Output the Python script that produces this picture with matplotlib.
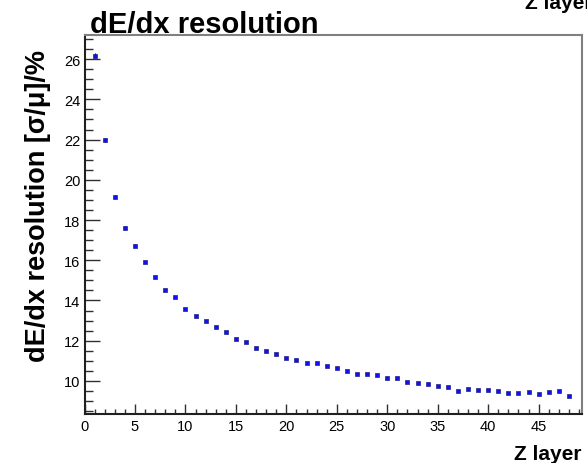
import matplotlib
matplotlib.use("Agg")
from matplotlib import pyplot as plt
from matplotlib.ticker import MultipleLocator
import numpy as np

# resolution per Z layer (sigma/mu in %)
layers = np.arange(1, 49)
resolution = [26.18, 21.97, 19.16, 17.62, 16.73, 15.93, 15.17, 14.51, 14.17, 13.56,
              13.24, 12.96, 12.67, 12.43, 12.08, 11.95, 11.65, 11.47, 11.34, 11.15,
              11.04, 10.91, 10.88, 10.76, 10.63, 10.51, 10.34, 10.36, 10.28, 10.15,
              10.13, 9.96, 9.88, 9.83, 9.73, 9.71, 9.51, 9.61, 9.56, 9.54,
              9.48, 9.40, 9.38, 9.43, 9.35, 9.45, 9.50, 9.25]
errors = [0.12, 0.10, 0.08, 0.07, 0.06, 0.05, 0.05, 0.04, 0.04, 0.04,
          0.04, 0.03, 0.03, 0.03, 0.03, 0.03, 0.03, 0.03, 0.03, 0.03,
          0.03, 0.03, 0.03, 0.03, 0.03, 0.03, 0.03, 0.03, 0.03, 0.03,
          0.03, 0.03, 0.03, 0.03, 0.03, 0.03, 0.03, 0.03, 0.03, 0.03,
          0.03, 0.03, 0.03, 0.03, 0.03, 0.03, 0.03, 0.03]

plt.rcParams["font.family"] = ["Liberation Sans", "DejaVu Sans"]

fig = plt.figure(figsize=(5.87, 4.64), dpi=100)
ax = fig.add_axes([0.144, 0.1063, 0.8475, 0.8161])

ax.errorbar(layers, resolution, yerr=errors, fmt="s", ms=3.0, color="#1010f0",
            mec="#202080", mew=0.5, ecolor="black", elinewidth=0.8, capsize=0,
            zorder=3)

ax.set_xlim(0, 49.3)
ax.set_ylim(8.37, 27.2)
ax.xaxis.set_major_locator(MultipleLocator(5))
ax.xaxis.set_minor_locator(MultipleLocator(1))
ax.yaxis.set_major_locator(MultipleLocator(2))
ax.yaxis.set_minor_locator(MultipleLocator(0.5))

ax.tick_params(axis="both", which="both", direction="in", labelsize=10.5,
               color="#303030", width=1.0)
ax.tick_params(axis="y", which="major", length=11, pad=3)
ax.tick_params(axis="y", which="minor", length=6)
ax.tick_params(axis="x", which="major", length=7.2, pad=4)
ax.tick_params(axis="x", which="minor", length=3.6)

for side in ["left", "bottom"]:
    ax.spines[side].set_color("#202020")
    ax.spines[side].set_linewidth(1.5)
for side in ["top", "right"]:
    ax.spines[side].set_color("#808080")
    ax.spines[side].set_linewidth(1.5)

# axis titles, placed ROOT-style at the ends of the axes
fig.text(582 / 587, 1 - 460 / 464, "Z layer", fontsize=15,
         fontweight="bold", ha="right", va="baseline")
fig.text(38 / 587, 1 - 50 / 464, "dE/dx resolution [\u03c3/\u03bc]/%",
         fontsize=19.5, fontweight="bold", rotation=90, ha="center", va="top")

fig.text(90 / 587, 1 - 33 / 464, "dE/dx resolution", fontsize=21,
         fontweight="bold", ha="left", va="baseline")
fig.text(525 / 587, 1 - 9 / 464, "Z layer", fontsize=15,
         fontweight="bold", ha="left", va="baseline")

fig.savefig("out.png", dpi=100)
